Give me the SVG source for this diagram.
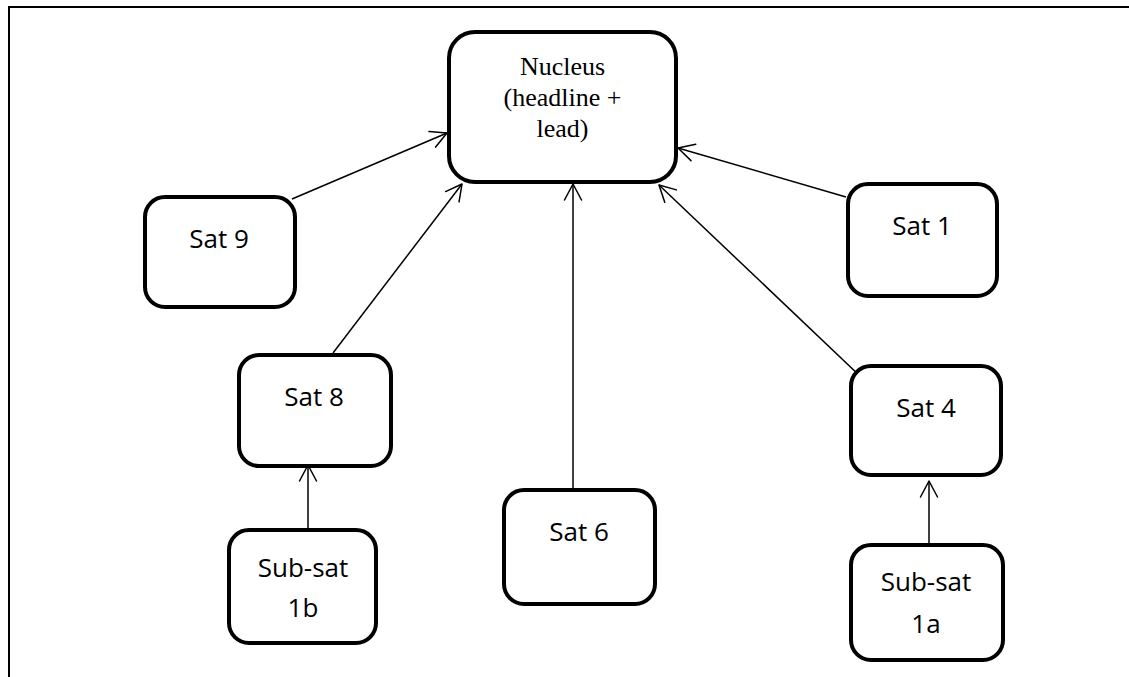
<svg xmlns="http://www.w3.org/2000/svg" width="1129" height="677" viewBox="0 0 1129 677">
  <defs>
    <marker id="arrow" markerUnits="userSpaceOnUse" markerWidth="40" markerHeight="40" refX="0" refY="0" viewBox="-20 -20 40 40" orient="auto" overflow="visible">
      <path d="M-16,-8.5 L0,0 L-16,8.5" fill="none" stroke="#000" stroke-width="1.5" stroke-linecap="round" stroke-linejoin="round"/>
    </marker>
    <style>
      .frame { stroke: #000; stroke-width: 2; fill: none; }
      .box { fill: #fff; stroke: #000; stroke-width: 4; }
      .lbl { font-family: "Open Sans", "Liberation Sans", sans-serif; font-size: 26px; fill: #000; text-anchor: middle; }
      .serif { font-family: "Liberation Serif", "Times New Roman", serif; font-size: 26px; fill: #000; text-anchor: middle; }
      .conn line { stroke: #000; stroke-width: 1.5; marker-end: url(#arrow); }
    </style>
  </defs>

  <rect width="1129" height="677" fill="#fff"/>
  <!-- page frame: top and left rules -->
  <path class="frame" d="M9,677 V7 H1129"/>

  <g id="connectors" class="conn">
    <line x1="292" y1="199" x2="447" y2="133"/>
    <line x1="333" y1="353" x2="462" y2="184"/>
    <line x1="573" y1="488" x2="573" y2="184"/>
    <line x1="861" y1="377" x2="659" y2="185"/>
    <line x1="846" y1="197" x2="678" y2="148"/>
    <line x1="308" y1="528" x2="308" y2="465"/>
    <line x1="929" y1="543" x2="929" y2="481"/>
  </g>

  <g id="nucleus">
    <rect class="box" x="449" y="32" width="227" height="150" rx="26"/>
    <text class="serif" x="562.5" y="75">Nucleus</text>
    <text class="serif" x="562.5" y="106">(headline +</text>
    <text class="serif" x="562.5" y="137">lead)</text>
  </g>

  <g id="sat9">
    <rect class="box" x="145" y="197" width="150" height="110" rx="20"/>
    <text class="lbl" x="219" y="248">Sat 9</text>
  </g>

  <g id="sat8">
    <rect class="box" x="239" y="355" width="152" height="111" rx="20"/>
    <text class="lbl" x="314" y="406">Sat 8</text>
  </g>

  <g id="subsat1b">
    <rect class="box" x="229" y="530" width="147" height="113" rx="20"/>
    <text class="lbl" x="303" y="577">Sub-sat</text>
    <text class="lbl" x="303" y="617">1b</text>
  </g>

  <g id="sat6">
    <rect class="box" x="504" y="490" width="151" height="114" rx="20"/>
    <text class="lbl" x="579" y="541">Sat 6</text>
  </g>

  <g id="sat1">
    <rect class="box" x="848" y="184" width="149" height="112" rx="20"/>
    <text class="lbl" x="922" y="235">Sat 1</text>
  </g>

  <g id="sat4">
    <rect class="box" x="851" y="366" width="150" height="109" rx="20"/>
    <text class="lbl" x="926" y="417">Sat 4</text>
  </g>

  <g id="subsat1a">
    <rect class="box" x="851" y="545" width="152" height="115" rx="20"/>
    <text class="lbl" x="926" y="591">Sub-sat</text>
    <text class="lbl" x="926" y="633">1a</text>
  </g>
</svg>
